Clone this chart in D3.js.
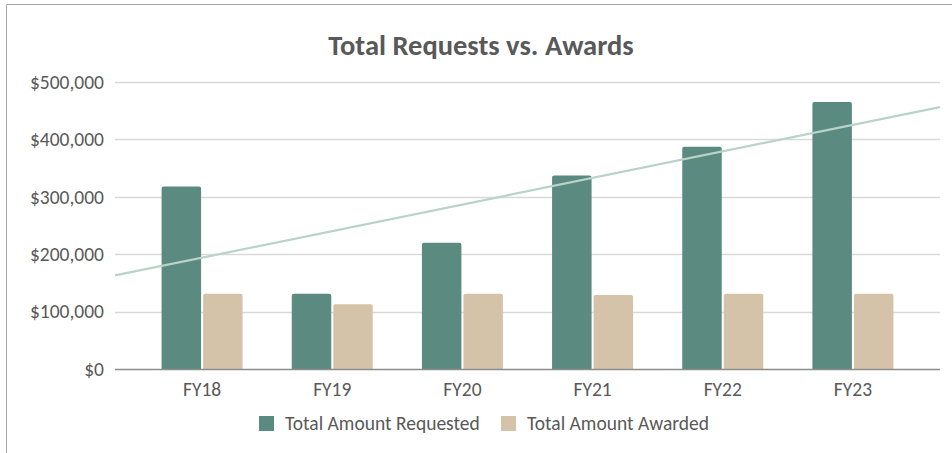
<!DOCTYPE html>
<html>
<head>
<meta charset="utf-8">
<script src="https://cdn.jsdelivr.net/npm/d3@7"></script>
<style>
  html, body { margin: 0; padding: 0; background: #fff; }
  svg { display: block; font-family: Calibri, Carlito, "Open Sans", sans-serif; }
</style>
</head>
<body>
<div id="chart"></div>
<script>
const years = ["FY18", "FY19", "FY20", "FY21", "FY22", "FY23"];
const requested = [318000, 131000, 220000, 337000, 387000, 465000];
const awarded = [131000, 113000, 131000, 129000, 131000, 131000];
const yTicks = [0, 100000, 200000, 300000, 400000, 500000];
const seriesNames = ["Total Amount Requested", "Total Amount Awarded"];
const colors = ["#5b8a80", "#d4c3a9"];

// =====================================
// DIMENSIONS
// =====================================

const W = 952, H = 453;
const plotLeft = 115, plotRight = 940;
const bandLeft = 137, bandRight = 918;

const svg = d3.select("#chart")
  .append("svg")
  .attr("width", W)
  .attr("height", H);

// frame (cut at right/bottom like the screenshot)
svg.append("path")
  .attr("d", `M6.5,${H} V4.5 H${W}`)
  .attr("fill", "none")
  .attr("stroke", "#a6a6a6")
  .attr("stroke-width", 1);

// =====================================
// SCALES
// =====================================

const x = d3.scaleBand()
  .domain(years)
  .range([bandLeft, bandRight])
  .paddingInner(0)
  .paddingOuter(0);

const y = d3.scaleLinear()
  .domain([0, 500000])
  .range([369, 82]);

// index scale for the trendline
const xi = d3.scaleLinear()
  .domain([0, years.length - 1])
  .range([x(years[0]) + x.bandwidth() / 2, x(years[years.length - 1]) + x.bandwidth() / 2]);

// =====================================
// GRID + Y AXIS
// =====================================

svg.append("g")
  .selectAll("line")
  .data(yTicks.filter(d => d > 0))
  .enter()
  .append("line")
  .attr("x1", plotLeft)
  .attr("x2", plotRight)
  .attr("y1", d => Math.round(y(d)) + 0.5)
  .attr("y2", d => Math.round(y(d)) + 0.5)
  .attr("stroke", "#d9d9d9")
  .attr("stroke-width", 1.5);

const fmt = d3.format("$,");

svg.append("g")
  .selectAll("text")
  .data(yTicks)
  .enter()
  .append("text")
  .attr("x", 104)
  .attr("y", d => y(d))
  .attr("dy", "0.35em")
  .attr("text-anchor", "end")
  .attr("fill", "#595959")
  .style("font-size", "19.5px")
  .text(d => fmt(d));

// =====================================
// BARS
// =====================================

const barW = 39.5, gap = 2;
const series = [requested, awarded];

series.forEach((vals, s) => {
  svg.append("g")
    .selectAll("path")
    .data(vals)
    .enter()
    .append("path")
    .attr("fill", colors[s])
    .attr("d", (d, i) => {
      const cx = x(years[i]) + x.bandwidth() / 2;
      const x0 = s === 0 ? cx - gap / 2 - barW : cx + gap / 2;
      const y0 = y(d), y1 = y(0), r = 2;
      return `M${x0},${y1} V${y0 + r} Q${x0},${y0} ${x0 + r},${y0} H${x0 + barW - r} Q${x0 + barW},${y0} ${x0 + barW},${y0 + r} V${y1} Z`;
    });
});

// baseline
svg.append("line")
  .attr("x1", plotLeft)
  .attr("x2", plotRight)
  .attr("y1", y(0) + 0.5)
  .attr("y2", y(0) + 0.5)
  .attr("stroke", "#8c8c8c")
  .attr("stroke-width", 1.5);

// =====================================
// TRENDLINE (least squares on requested)
// =====================================

const n = requested.length;
const mx = d3.mean(d3.range(n));
const my = d3.mean(requested);
const slope = d3.sum(requested, (v, i) => (i - mx) * (v - my)) /
  d3.sum(d3.range(n), i => (i - mx) * (i - mx));
const icept = my - slope * mx;
const iL = xi.invert(plotLeft), iR = xi.invert(plotRight);

svg.append("line")
  .attr("x1", plotLeft)
  .attr("x2", plotRight)
  .attr("y1", y(icept + slope * iL))
  .attr("y2", y(icept + slope * iR))
  .attr("stroke", "#b9d3c8")
  .attr("stroke-width", 2.2);

// =====================================
// X LABELS
// =====================================

svg.append("g")
  .selectAll("text")
  .data(years)
  .enter()
  .append("text")
  .attr("x", d => x(d) + x.bandwidth() / 2)
  .attr("y", 396)
  .attr("text-anchor", "middle")
  .attr("fill", "#595959")
  .style("font-size", "19.5px")
  .text(d => d);

// =====================================
// TITLE
// =====================================

svg.append("text")
  .attr("x", 481)
  .attr("y", 55)
  .attr("text-anchor", "middle")
  .attr("fill", "#595959")
  .style("font-size", "28.5px")
  .style("font-weight", "bold")
  .text("Total Requests vs. Awards");

// =====================================
// LEGEND
// =====================================

const legendX = [259, 501];
const legend = svg.append("g")
  .selectAll("g")
  .data(seriesNames)
  .enter()
  .append("g")
  .attr("transform", (d, i) => `translate(${legendX[i]},416)`);

legend.append("rect")
  .attr("width", 15)
  .attr("height", 15)
  .attr("fill", (d, i) => colors[i]);

legend.append("text")
  .attr("x", 26)
  .attr("y", 14)
  .attr("fill", "#595959")
  .style("font-size", "19.5px")
  .text(d => d);
</script>
</body>
</html>
